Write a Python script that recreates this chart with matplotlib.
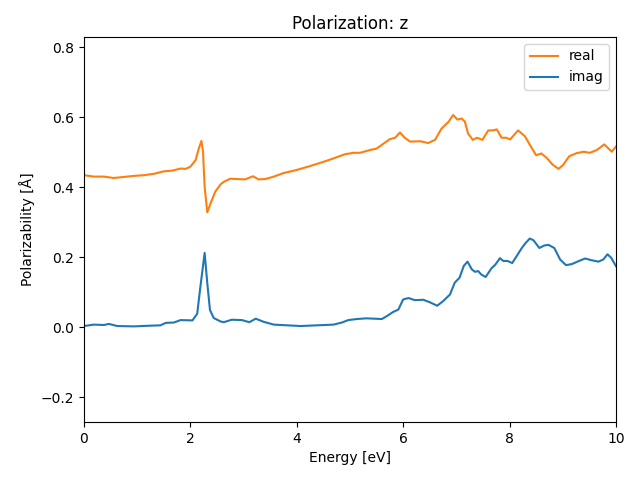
import numpy as np
import matplotlib
matplotlib.use('Agg')
import matplotlib.pyplot as plt

# energies [eV] and values
energy_real = [0.0, 0.19, 0.38, 0.56, 0.75, 0.94, 1.13, 1.32, 1.50, 1.66, 1.82, 1.91, 2.0, 2.10,
               2.16, 2.21, 2.24, 2.27, 2.32, 2.38, 2.47, 2.57, 2.63, 2.75, 2.88, 3.03, 3.18,
               3.28, 3.41, 3.57, 3.75, 4.0, 4.25, 4.5, 4.69, 4.91, 5.07, 5.19, 5.38, 5.5,
               5.63, 5.75, 5.85, 5.94, 6.03, 6.13, 6.32, 6.47, 6.6, 6.72, 6.85, 6.94, 7.02,
               7.1, 7.16, 7.22, 7.31, 7.39, 7.49, 7.6, 7.69, 7.76, 7.85, 7.94, 8.01, 8.16,
               8.29, 8.38, 8.5, 8.6, 8.7, 8.81, 8.92, 9.01, 9.12, 9.26, 9.39, 9.51, 9.64,
               9.78, 9.86, 9.92, 10.0]
real = [0.434, 0.430, 0.430, 0.426, 0.429, 0.432, 0.434, 0.438, 0.445, 0.447, 0.453, 0.452,
        0.458, 0.477, 0.51, 0.532, 0.50, 0.40, 0.328, 0.353, 0.387, 0.408, 0.415, 0.424,
        0.423, 0.422, 0.431, 0.422, 0.423, 0.43, 0.44, 0.449, 0.46, 0.472, 0.482, 0.494,
        0.498, 0.498, 0.506, 0.51, 0.524, 0.537, 0.541, 0.556, 0.541, 0.530, 0.531, 0.526,
        0.535, 0.567, 0.586, 0.606, 0.593, 0.596, 0.587, 0.553, 0.535, 0.541, 0.535, 0.562,
        0.562, 0.565, 0.541, 0.541, 0.536, 0.562, 0.545, 0.521, 0.491, 0.496, 0.483, 0.464,
        0.452, 0.464, 0.488, 0.497, 0.501, 0.498, 0.506, 0.522, 0.51, 0.501, 0.516]

energy_imag = [0.0, 0.19, 0.38, 0.47, 0.63, 0.94, 1.25, 1.44, 1.54, 1.69, 1.82, 2.04, 2.13,
               2.19, 2.27, 2.32, 2.37, 2.44, 2.57, 2.63, 2.78, 2.97, 3.11, 3.23, 3.38, 3.57,
               3.82, 4.07, 4.38, 4.69, 4.85, 4.97, 5.13, 5.31, 5.6, 5.69, 5.81, 5.91, 6.0,
               6.1, 6.22, 6.38, 6.5, 6.64, 6.75, 6.88, 6.97, 7.06, 7.14, 7.21, 7.29, 7.35,
               7.41, 7.47, 7.55, 7.66, 7.73, 7.82, 7.88, 7.96, 8.05, 8.13, 8.23, 8.3, 8.38,
               8.45, 8.56, 8.65, 8.73, 8.84, 8.95, 9.06, 9.17, 9.29, 9.42, 9.54, 9.67, 9.76,
               9.84, 9.91, 10.0]
imag = [0.003, 0.007, 0.006, 0.009, 0.003, 0.002, 0.004, 0.005, 0.012, 0.013, 0.02, 0.019,
        0.038, 0.115, 0.212, 0.125, 0.049, 0.026, 0.016, 0.014, 0.021, 0.020, 0.014, 0.024,
        0.015, 0.007, 0.005, 0.003, 0.005, 0.007, 0.013, 0.02, 0.023, 0.025, 0.023, 0.031,
        0.043, 0.050, 0.079, 0.083, 0.077, 0.078, 0.071, 0.061, 0.074, 0.093, 0.127, 0.141,
        0.175, 0.187, 0.165, 0.158, 0.16, 0.150, 0.143, 0.168, 0.178, 0.197, 0.189, 0.189,
        0.183, 0.202, 0.226, 0.24, 0.253, 0.248, 0.226, 0.233, 0.235, 0.226, 0.193, 0.177,
        0.18, 0.188, 0.196, 0.191, 0.187, 0.193, 0.208, 0.198, 0.174]

plt.figure(figsize=(6.4, 4.8))
plt.plot(energy_real, real, color='C1', label='real')
plt.plot(energy_imag, imag, color='C0', label='imag')
plt.xlim(0, 10)
plt.ylim(-0.271, 0.829)
plt.xlabel('Energy [eV]')
plt.ylabel('Polarizability [Å]')
plt.title('Polarization: z')
plt.legend(loc='upper right')
plt.subplots_adjust(left=0.131, right=0.9625, top=0.923, bottom=0.121)
plt.savefig('out.png', dpi=100)
